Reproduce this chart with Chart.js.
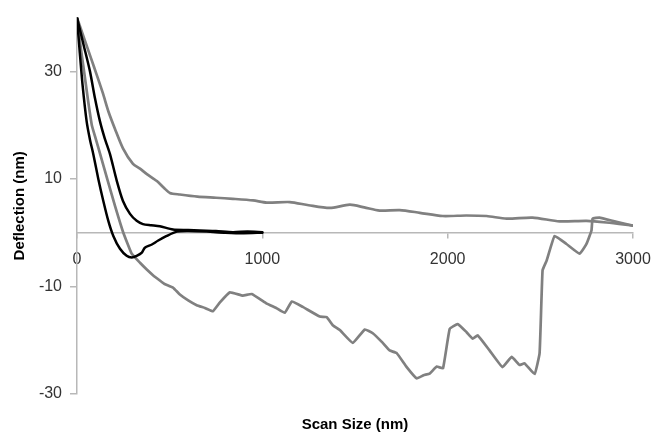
<!DOCTYPE html>
<html>
<head>
<meta charset="utf-8">
<script src="https://cdn.jsdelivr.net/npm/chart.js@4.4.1/dist/chart.umd.min.js"></script>
<style>
html,body{margin:0;padding:0;background:#ffffff;}
canvas{display:block;}
</style>
</head>
<body>
<canvas id="c" width="655" height="434"></canvas>
<script>
// Tick labels
const xTicks = [0, 1000, 2000, 3000];
const yTicks = [-30, -10, 10, 30];

// Gray curve, upper (long scan, stays positive)
const grayUpperX = [0, 40, 81, 100, 140, 170, 205, 248, 302, 340, 377, 431, 470, 501, 555, 650, 750, 841, 950, 1024, 1148, 1250, 1364, 1472, 1550, 1633, 1741, 1850, 1973, 2100, 2210, 2318, 2458, 2604, 2749, 2857, 3000];
const grayUpperY = [40, 36, 31.9, 30, 25.9, 22.5, 19.3, 15.7, 12.8, 11.9, 10.9, 9.6, 8.3, 7.4, 7.1, 6.7, 6.5, 6.3, 6.0, 5.6, 5.7, 5.1, 4.6, 5.2, 4.7, 4.1, 4.2, 3.7, 3.1, 3.2, 3.1, 2.6, 2.8, 2.1, 2.2, 1.9, 1.3];

// Gray curve, lower (long scan, goes negative)
const grayLowerX = [0, 20, 40, 60, 80, 100, 130, 163, 205, 250, 295, 340, 375, 410, 447, 470, 518, 555, 600, 646, 690, 733, 770, 825, 895, 943, 1024, 1075, 1121, 1159, 1218, 1310, 1347, 1380, 1418, 1488, 1553, 1596, 1650, 1687, 1725, 1779, 1833, 1870, 1903, 1941, 1975, 2011, 2054, 2102, 2135, 2162, 2226, 2296, 2345, 2388, 2415, 2469, 2496, 2512, 2534, 2577, 2641, 2712, 2749, 2776, 2782, 2819, 2900, 3000];
const grayLowerY = [40, 34.5, 29.5, 24.5, 20, 17.6, 14, 10, 5, 0, -3.9, -5.6, -6.8, -7.9, -8.9, -9.5, -10.2, -11.5, -12.6, -13.5, -14, -14.6, -13, -11.1, -11.7, -11.4, -13.2, -14, -14.9, -12.8, -13.8, -15.6, -15.7, -17.2, -18.1, -20.5, -18, -18.7, -20.5, -21.9, -22.4, -25, -27.1, -26.5, -26.2, -24.9, -25.2, -17.9, -17, -18.5, -19.7, -19.1, -21.9, -25, -23.1, -24.6, -24.3, -26.3, -22.4, -7, -5.2, -0.6, -2.1, -3.9, -2.1, 0.4, 2.6, 2.8, 2.1, 1.3];

// Black curve with dip (short scan)
const blackDipX = [0, 15, 30, 52, 70, 88, 115, 142, 169, 196, 232, 268, 296, 322, 350, 366, 404, 436, 484, 539, 600, 700, 800, 900, 1000];
const blackDipY = [40, 33.5, 27.5, 20.7, 17.3, 14.6, 10, 5.9, 2.2, -0.6, -3, -4.3, -4.6, -4.3, -3.7, -2.8, -2.2, -1.5, -0.6, 0.2, 0.3, 0.2, 0, -0.1, 0];

// Black curve without dip (short scan)
const blackFlatX = [0, 35, 70, 97, 124, 150, 178, 215, 248, 286, 322, 356, 400, 447, 518, 600, 663, 750, 841, 920, 1000];
const blackFlatY = [40, 35, 30, 25, 20.7, 17.5, 14.6, 9.6, 5.9, 3.5, 2.2, 1.6, 1.4, 1.2, 0.6, 0.5, 0.4, 0.3, 0.1, 0.2, 0.1];

const toPts = (xs, ys) => xs.map((x, i) => ({x: x, y: ys[i]}));

const FONT = "'Liberation Sans', Arial, Helvetica, sans-serif";
const AXIS = '#b8b8b8';
const GRAY = '#808080';

new Chart(document.getElementById('c').getContext('2d'), {
  type: 'line',
  data: {
    datasets: [
      {data: toPts(blackDipX, blackDipY), borderColor: '#000000', borderWidth: 2.5, tension: 0.25},
      {data: toPts(blackFlatX, blackFlatY), borderColor: '#000000', borderWidth: 2.5, tension: 0.25},
      {data: toPts(grayUpperX, grayUpperY), borderColor: GRAY, borderWidth: 2.7, tension: 0.25},
      {data: toPts(grayLowerX, grayLowerY), borderColor: GRAY, borderWidth: 2.7, tension: 0.1}
    ]
  },
  options: {
    responsive: false,
    animation: false,
    layout: {padding: {left: 0, right: 22, top: 16, bottom: 0}},
    elements: {
      point: {radius: 0, hoverRadius: 0},
      line: {fill: false, borderJoinStyle: 'round', borderCapStyle: 'round', capBezierPoints: true}
    },
    plugins: {
      legend: {display: false},
      tooltip: {enabled: false},
      title: {
        display: true,
        text: 'Scan Size (nm)',
        position: 'bottom',
        fullSize: false,
        color: '#000000',
        font: {family: FONT, size: 15, weight: 'bold'},
        padding: {top: 22, bottom: 0}
      }
    },
    scales: {
      x: {
        type: 'linear',
        min: 0,
        max: 3000,
        position: {y: 0},
        afterBuildTicks: s => { s.ticks = xTicks.map(v => ({value: v})); },
        afterFit: s => { s.paddingRight = 0; s.paddingLeft = 0; },
        grid: {drawOnChartArea: false, drawTicks: true, tickLength: 5, color: AXIS, lineWidth: 1.5},
        border: {display: true, color: AXIS, width: 1.5},
        ticks: {font: {family: FONT, size: 16}, color: '#333333', padding: 12, maxRotation: 0, autoSkip: false,
                callback: v => String(v)}
      },
      y: {
        type: 'linear',
        min: -30,
        max: 40,
        afterBuildTicks: s => { s.ticks = yTicks.map(v => ({value: v})); },
        afterFit: s => { s.width = 77; },
        grid: {drawOnChartArea: false, drawTicks: true, tickLength: 7, color: AXIS, lineWidth: 1.5},
        border: {display: true, color: AXIS, width: 1.5},
        ticks: {font: {family: FONT, size: 16}, color: '#333333', padding: 8, autoSkip: false,
                callback: v => String(v)},
        title: {
          display: true,
          text: 'Deflection (nm)',
          color: '#000000',
          font: {family: FONT, size: 15, weight: 'bold'},
          padding: {top: 11, bottom: 0}
        }
      }
    }
  }
});
</script>
</body>
</html>
